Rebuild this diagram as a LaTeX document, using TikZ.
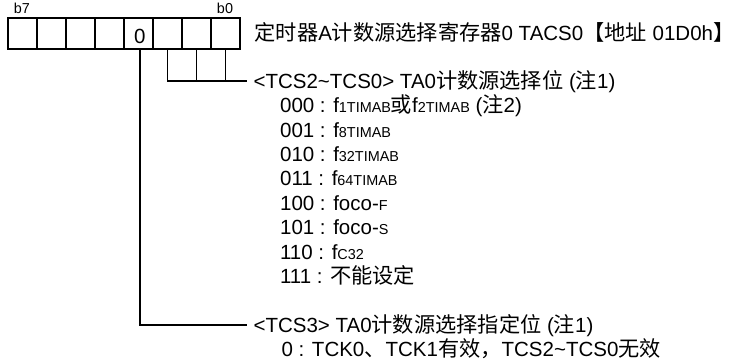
\documentclass[tikz,border=0pt]{standalone}
\usepackage{fontspec}
\setmainfont{Liberation Sans}
\newfontfamily\cjk{Noto Sans CJK SC}[Scale=1.035]
\newcommand\zh[1]{{\cjk #1}}
\newcommand\sm[1]{{\fontsize{14.4}{14}\selectfont #1}}
\begin{document}
\begin{tikzpicture}[x=1pt,y=-1pt,line width=1.2pt,
  cell/.style={draw,minimum width=29pt,minimum height=31pt,inner sep=0pt,anchor=north west},
  bitlbl/.style={inner sep=0pt,anchor=base,font=\fontsize{14.4}{16}\selectfont},
  head/.style={inner xsep=6.3pt,inner ysep=0pt,text height=14.6pt,text depth=0pt,anchor=base west,font=\fontsize{20.5}{24}\selectfont},
  item/.style={inner sep=0pt,anchor=base west,font=\fontsize{20.5}{24}\selectfont},
  digit/.style={inner sep=0pt,font=\fontsize{20.5}{24}\selectfont}
]
\useasboundingbox (0,0) rectangle (737,364);
% register cells
\foreach \i in {0,...,7} \node[cell] (b\i) at ({7.3+29*(7-\i)},17.3) {};
\node[bitlbl] (lb7) at (22,13.3) {b7};
\node[bitlbl] (lb0) at (225,13.3) {b0};
\node[digit] (zero) at ([xshift=1.5pt,yshift=-3pt]b3.center) {0};
% title
\node[item] (title) at (254,40.5) {\zh{定时器}A\zh{计数源选择寄存器}0 TACS0\zh{【地址} 01D0h\zh{】}};
% headings
\node[head] (h1) at (246.7,88.3) {<TCS2\textasciitilde TCS0> TA0\zh{计数源选择位} (\zh{注}1)};
\node[head] (h2) at (246.7,332.3) {<TCS3> TA0\zh{计数源选择指定位} (\zh{注}1)};
% items
\node[item] (i1) at (279.5,112.7) {000 : f\sm{1TIMAB}\zh{或}f\sm{2TIMAB} (\zh{注}2)};
\node[item] (i2) at (279.5,137.1) {001 : f\sm{8TIMAB}};
\node[item] (i3) at (279.5,161.5) {010 : f\sm{32TIMAB}};
\node[item] (i4) at (279.5,185.9) {011 : f\sm{64TIMAB}};
\node[item] (i5) at (279.5,210.3) {100 : foco-\sm{F}};
\node[item] (i6) at (279.5,234.7) {101 : foco-\sm{S}};
\node[item] (i7) at (279.5,259.1) {110 : f\sm{C32}};
\node[item] (i8) at (279.5,283.5) {111 : \zh{不能设定}};
\node[item] (i9) at (281,356.7) {0 : TCK0\zh{、}TCK1\zh{有效，}TCS2\textasciitilde TCS0\zh{无效}};
% connectors
\draw (b2.south) |- (h1.west);
\draw (b1.south) -- (b1.south |- h1.west);
\draw (b0.south) -- (b0.south |- h1.west);
\draw ([xshift=1.5pt]b3.south) |- (h2.west);
\end{tikzpicture}
\end{document}
